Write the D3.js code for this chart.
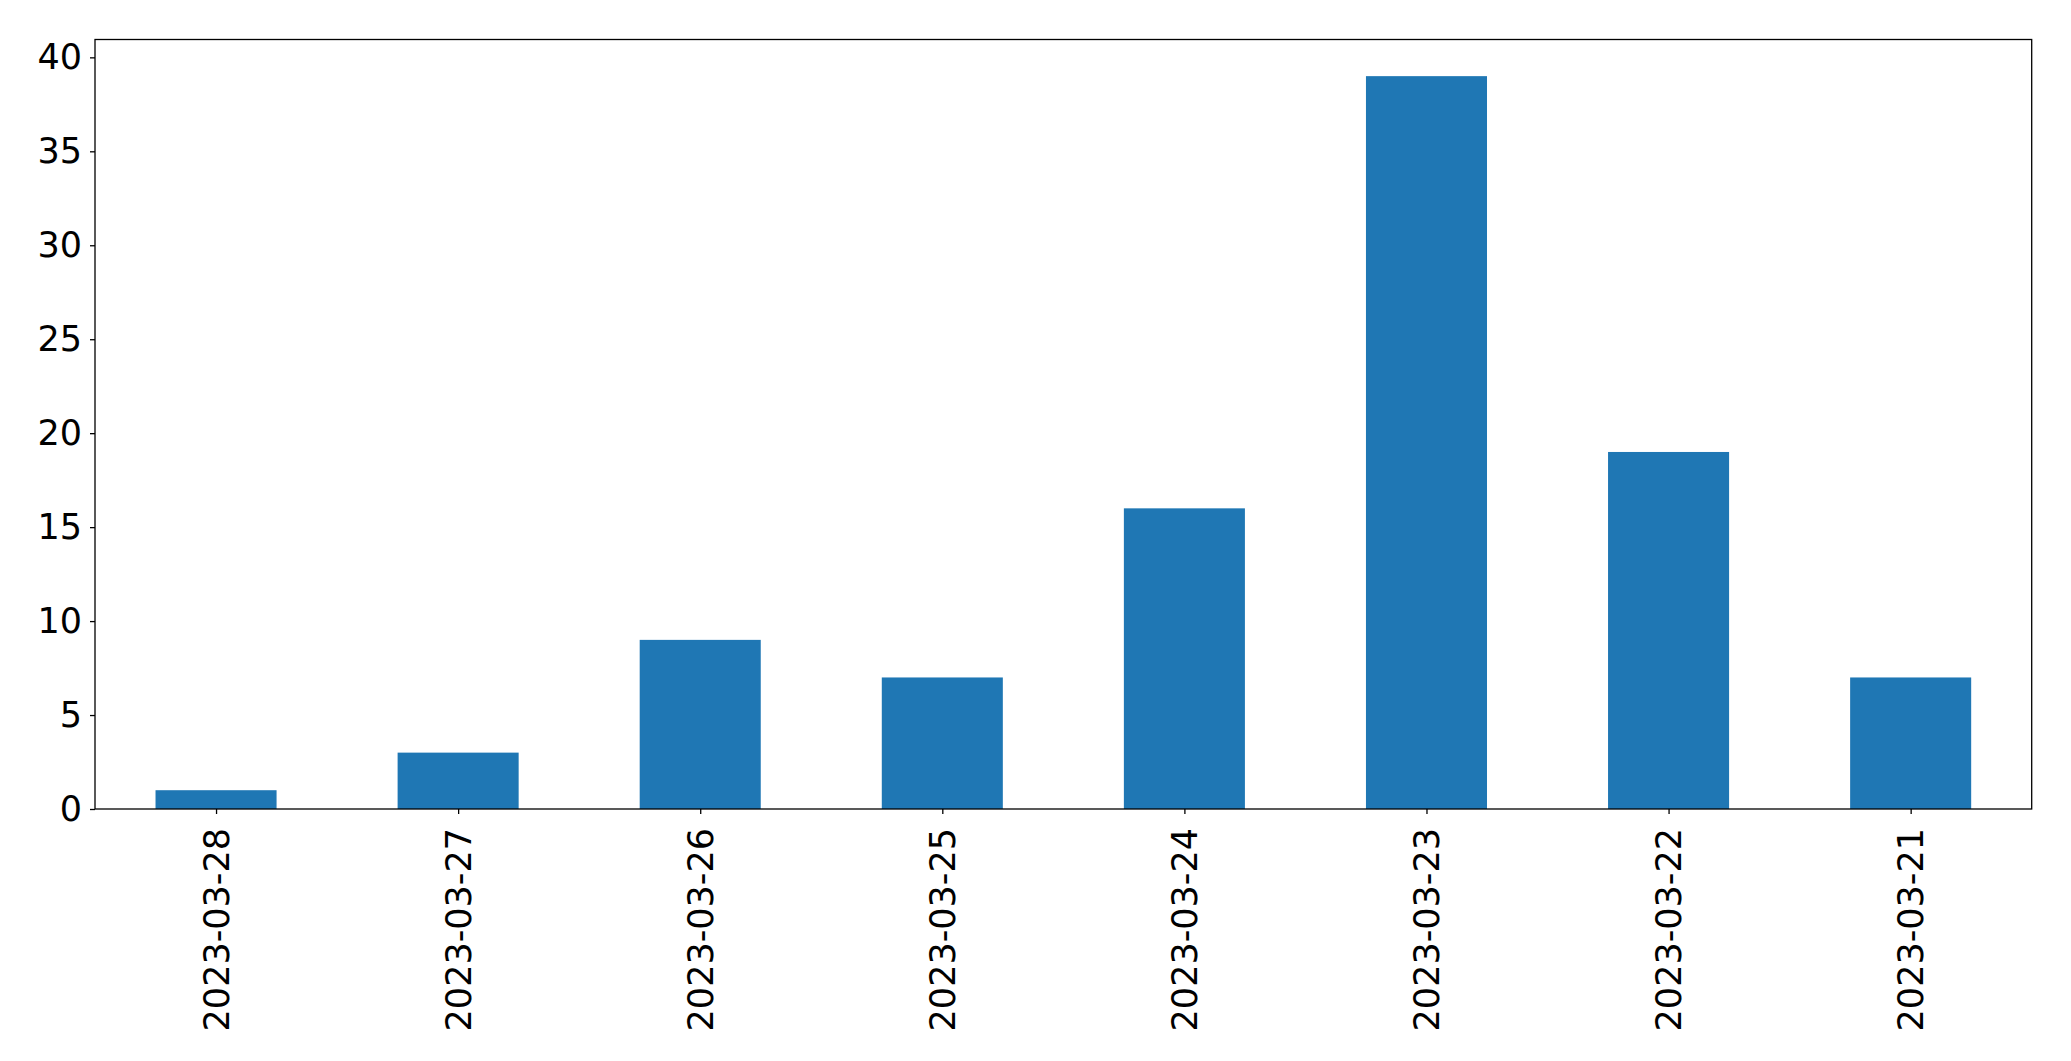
<!DOCTYPE html>
<html><head><meta charset="utf-8">
<script src="https://cdn.jsdelivr.net/npm/d3@7"></script>
<style>body{margin:0;background:#fff}svg{display:block}</style>
</head><body>
<script>
const categories = ["2023-03-28","2023-03-27","2023-03-26","2023-03-25","2023-03-24","2023-03-23","2023-03-22","2023-03-21"];
const values = [1, 3, 9, 7, 16, 39, 19, 7];
const yTicks = [0, 5, 10, 15, 20, 25, 30, 35, 40];

const W = 2071, H = 1061;
const m = {left: 95, right: 2071 - 1031.7 - 1000, top: 39.5, bottom: 1061 - 809};
const svg = d3.select("body").append("svg").attr("width", W).attr("height", H);
const font = "'DejaVu Sans', sans-serif";
const fs = 35;

const x = d3.scaleLinear().domain([-0.5, categories.length - 0.5]).range([m.left, W - m.right]);
const yMax = d3.max(values) * 1.05;
const y = d3.scaleLinear().domain([0, yMax]).range([H - m.bottom, m.top]);

svg.append("g").selectAll("rect").data(values).join("rect")
  .attr("x", (d, i) => x(i - 0.25))
  .attr("width", (d, i) => x(i + 0.25) - x(i - 0.25))
  .attr("y", d => y(d))
  .attr("height", d => y(0) - y(d))
  .attr("fill", "#1f77b4");

const yAxis = d3.axisLeft(y).tickValues(yTicks).tickSize(5).tickPadding(8).tickFormat(d3.format("d"));
const gy = svg.append("g").attr("transform", `translate(${m.left},0)`).call(yAxis);
gy.select(".domain").remove();
gy.selectAll("line").attr("stroke", "#000").attr("stroke-width", 1.3);
gy.selectAll("text").attr("font-family", font).attr("font-size", fs).attr("fill", "#000");

const xAxis = d3.axisBottom(x).tickValues(d3.range(categories.length)).tickSize(5).tickFormat(i => categories[i]);
const gx = svg.append("g").attr("transform", `translate(0,${H - m.bottom})`).call(xAxis);
gx.select(".domain").remove();
gx.selectAll("line").attr("stroke", "#000").attr("stroke-width", 1.3);
gx.selectAll("text")
  .attr("font-family", font).attr("font-size", fs).attr("fill", "#000")
  .attr("text-anchor", "end")
  .attr("transform", "translate(0,19) rotate(-90)")
  .attr("x", 0).attr("y", 0).attr("dy", "0.35em");

svg.append("rect")
  .attr("x", m.left).attr("y", m.top)
  .attr("width", W - m.right - m.left).attr("height", H - m.bottom - m.top)
  .attr("fill", "none").attr("stroke", "#000").attr("stroke-width", 1.3);
</script>
</body></html>
